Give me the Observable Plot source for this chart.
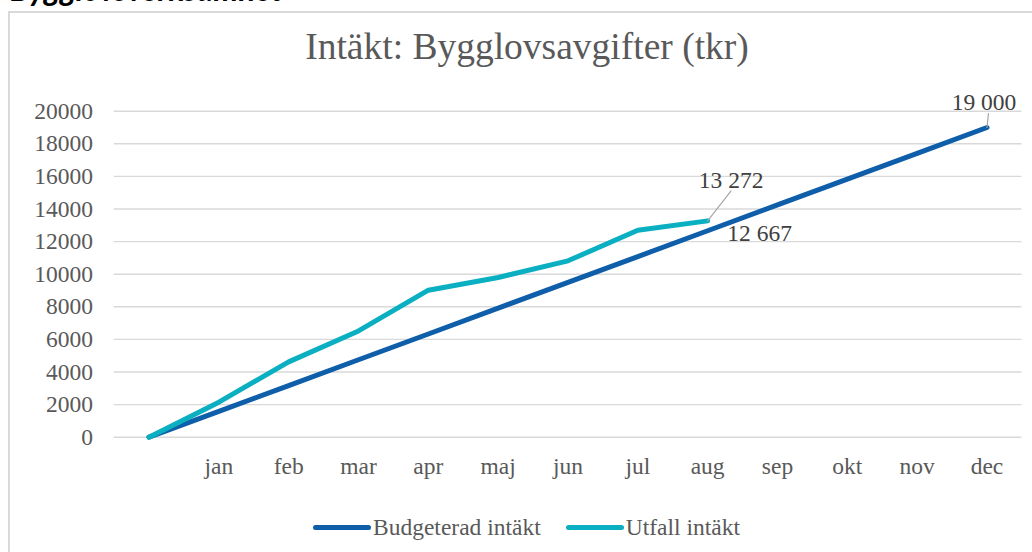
<!DOCTYPE html>
<html>
<head>
<meta charset="utf-8">
<script src="https://cdn.jsdelivr.net/npm/d3@7"></script>
<script src="https://cdn.jsdelivr.net/npm/@observablehq/plot@0.6"></script>
<style>
  html, body { margin: 0; padding: 0; background: #fff; }
  body { width: 1032px; height: 552px; overflow: hidden; position: relative; font-family: "Liberation Serif", "Times New Roman", serif; }
  #top { position: absolute; left: 10px; top: -26px; font: italic bold 31.5px Lato, "Open Sans", sans-serif; line-height: 1; color: #000; white-space: nowrap; }
  #frame { position: absolute; left: 8px; top: 11px; width: 1040px; height: 560px; border: 2px solid #d9d9d9; box-sizing: border-box; }
  #title { position: absolute; left: 0; width: 1054px; top: 28px; text-align: center; font-size: 37.5px; line-height: 1; color: #595959; white-space: nowrap; }
  #chart { position: absolute; left: 0; top: 0; }
  #legend { position: absolute; left: 313px; top: 513px; height: 28px; display: flex; align-items: center; font-size: 23.5px; color: #595959; white-space: nowrap; }
  .sw { display: inline-block; width: 58px; height: 5px; border-radius: 3px; margin-right: 2px; }
  .item { display: flex; align-items: center; margin-right: 25px; }
</style>
</head>
<body>
<div id="top">Bygglovsverksamhet</div>
<div id="frame"></div>
<div id="chart"></div>
<div id="title">Intäkt: Bygglovsavgifter (tkr)</div>
<div id="legend"></div>
<script>
// ---- data ----
const months = ["", "jan", "feb", "mar", "apr", "maj", "jun", "jul", "aug", "sep", "okt", "nov", "dec"];
const budget = [0, 1583, 3167, 4750, 6333, 7917, 9500, 11083, 12667, 14250, 15833, 17417, 19000];
const actual = [0, 2150, 4620, 6520, 9020, 9800, 10820, 12700, 13272];
const seriesNames = ["Budgeterad intäkt", "Utfall intäkt"];
const colors = ["#0e5ea9", "#0aafc1"];
const yTicks = [0, 2000, 4000, 6000, 8000, 10000, 12000, 14000, 16000, 18000, 20000];

const budgetData = budget.map((v, i) => ({month: months[i], value: v}));
const actualData = actual.map((v, i) => ({month: months[i], value: v}));

const fmt = d3.formatLocale({thousands: " ", grouping: [3], decimal: ","}).format(",d");
const leader = {draw(context, l) { context.moveTo(0, 0); context.lineTo(0, -l); }};

const lastActual = actualData.slice(-1);
const budgetAug = budgetData.filter(d => d.month === "aug");
const budgetDec = budgetData.filter(d => d.month === "dec");

const labelFont = {fontFamily: "Liberation Serif, Times New Roman, serif", fontSize: 23.5, fill: "#404040"};

const chart = Plot.plot({
  width: 1032,
  height: 552,
  marginLeft: 113.6,
  marginRight: 10.6,
  marginTop: 110.7,
  marginBottom: 115.3,
  style: {fontFamily: "Liberation Serif, Times New Roman, serif", fontSize: "23.5px", color: "#595959", background: "transparent", overflow: "visible"},
  x: {type: "point", domain: months, padding: 0.5, round: false, label: null},
  y: {domain: [0, 20000], label: null},
  marks: [
    Plot.ruleY(yTicks, {stroke: "#d9d9d9", strokeWidth: 1.4, strokeOpacity: 1}),
    Plot.axisY({ticks: yTicks, tickSize: 0, tickPadding: 21, tickFormat: d => String(d), label: null, fill: "#595959"}),
    Plot.axisX({tickSize: 0, tickPadding: 20, label: null, fill: "#595959"}),
    Plot.line(budgetData, {x: "month", y: "value", stroke: colors[0], strokeWidth: 5, strokeLinejoin: "round", strokeLinecap: "round"}),
    Plot.line(actualData, {x: "month", y: "value", stroke: colors[1], strokeWidth: 5, strokeLinejoin: "round", strokeLinecap: "round"}),
    Plot.vector(lastActual, {x: "month", y: "value", length: 38, rotate: 38, anchor: "start", shape: leader, stroke: "#a6a6a6", strokeWidth: 1.2}),
    Plot.vector(budgetDec, {x: "month", y: "value", length: 14, rotate: 6, anchor: "start", shape: leader, stroke: "#a6a6a6", strokeWidth: 1.2}),
    Plot.text(lastActual, {x: "month", y: "value", text: d => fmt(d.value), dx: 23.5, dy: -40, ...labelFont}),
    Plot.text(budgetAug, {x: "month", y: "value", text: d => fmt(d.value), dx: 52, dy: 3, ...labelFont}),
    Plot.text(budgetDec, {x: "month", y: "value", text: d => fmt(d.value), dx: -3, dy: -25.5, ...labelFont})
  ]
});
document.getElementById("chart").appendChild(chart);

const legend = document.getElementById("legend");
seriesNames.forEach((name, i) => {
  const item = document.createElement("span");
  item.className = "item";
  const sw = document.createElement("span");
  sw.className = "sw";
  sw.style.background = colors[i];
  item.appendChild(sw);
  item.appendChild(document.createTextNode(name));
  legend.appendChild(item);
});
</script>
</body>
</html>
